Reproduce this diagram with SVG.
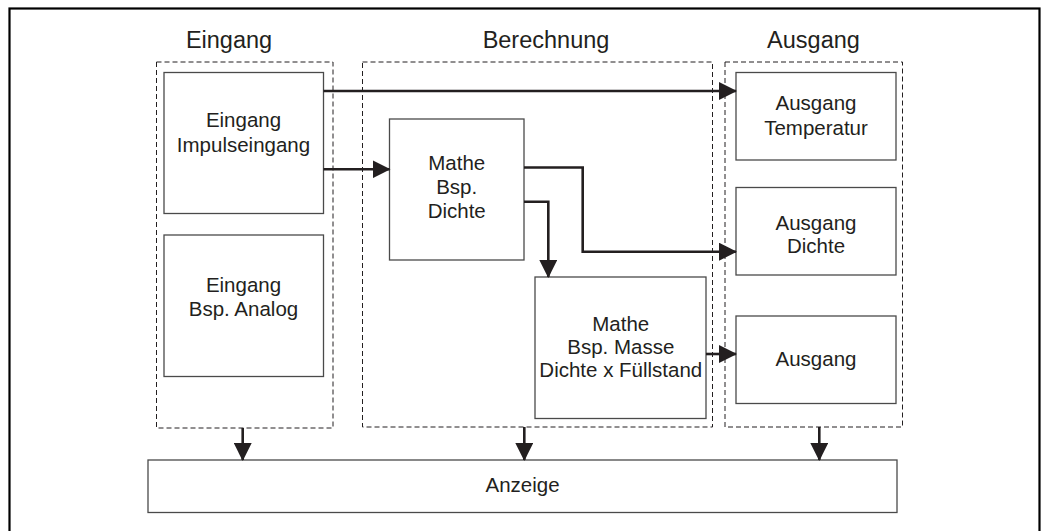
<svg xmlns="http://www.w3.org/2000/svg" width="1042" height="531" viewBox="0 0 1042 531">
<defs>
<marker id="ah" markerWidth="18" markerHeight="18" viewBox="0 0 18 18" refX="17" refY="9" orient="auto" markerUnits="userSpaceOnUse">
<path d="M0,0 L18,9 L0,18 Z" fill="#231f20"/>
</marker>
<style>
.frame{fill:#fff;stroke:#000;stroke-width:2.2}
.grp{fill:none;stroke:#231f20;stroke-width:1;stroke-dasharray:5,3}
.box{fill:#fff;stroke:#4a4a4a;stroke-width:1.3}
.t{font-family:"Liberation Sans",Arial,sans-serif;font-size:20.5px;fill:#231f20;text-anchor:middle}
.h{font-family:"Liberation Sans",Arial,sans-serif;font-size:23.5px;fill:#231f20;text-anchor:middle}
.c{fill:none;stroke:#231f20;stroke-width:2.6;marker-end:url(#ah)}
</style>
</defs>
<rect class="frame" x="9.5" y="8.5" width="1030" height="530"/>
<g id="group-eingang">
<rect class="grp" x="156.5" y="62" width="176.5" height="366"/>
<text class="h" x="229" y="48.3">Eingang</text>
</g>
<g id="group-berechnung">
<rect class="grp" x="362.5" y="62" width="350" height="365"/>
<text class="h" x="546" y="48.3">Berechnung</text>
</g>
<g id="group-ausgang">
<rect class="grp" x="725" y="62" width="177.5" height="365"/>
<text class="h" x="813.5" y="48.3">Ausgang</text>
</g>
<g id="eingang-impuls">
<rect class="box" x="164" y="72.5" width="159.5" height="141"/>
<text class="t" x="243.5" y="126.7">Eingang</text>
<text class="t" x="243.5" y="151.7">Impulseingang</text>
</g>
<g id="eingang-analog">
<rect class="box" x="164" y="235" width="159.5" height="141.5"/>
<text class="t" x="243.5" y="291.7">Eingang</text>
<text class="t" x="243.5" y="315.5">Bsp. Analog</text>
</g>
<g id="mathe-dichte">
<rect class="box" x="389.5" y="119" width="134.5" height="141"/>
<text class="t" x="456.7" y="170">Mathe</text>
<text class="t" x="456.7" y="194">Bsp.</text>
<text class="t" x="456.7" y="218">Dichte</text>
</g>
<g id="mathe-masse">
<rect class="box" x="535" y="277" width="171" height="141.5"/>
<text class="t" x="620.8" y="331">Mathe</text>
<text class="t" x="620.8" y="354.3">Bsp. Masse</text>
<text class="t" x="620.8" y="376.7">Dichte x Füllstand</text>
</g>
<g id="ausgang-temperatur">
<rect class="box" x="736" y="72.5" width="160" height="87.5"/>
<text class="t" x="816" y="110">Ausgang</text>
<text class="t" x="816" y="135">Temperatur</text>
</g>
<g id="ausgang-dichte">
<rect class="box" x="736" y="187.5" width="160" height="87.5"/>
<text class="t" x="816" y="230">Ausgang</text>
<text class="t" x="816" y="253">Dichte</text>
</g>
<g id="ausgang">
<rect class="box" x="736" y="316" width="160" height="87.5"/>
<text class="t" x="816" y="366">Ausgang</text>
</g>
<g id="anzeige">
<rect class="box" x="148" y="460" width="749" height="52.5"/>
<text class="t" x="522.5" y="491.7">Anzeige</text>
</g>
<g id="connectors">
<path class="c" d="M323.5,91 H736"/>
<path class="c" d="M323.5,169.3 H389.5"/>
<path class="c" d="M524,167.5 H582.7 V251.7 H736"/>
<path class="c" d="M524,201.7 H548.3 V277"/>
<path class="c" d="M706,354 H736"/>
<path class="c" d="M242.7,428 V460"/>
<path class="c" d="M524.3,427 V460"/>
<path class="c" d="M819.3,427 V460"/>
</g>
</svg>
